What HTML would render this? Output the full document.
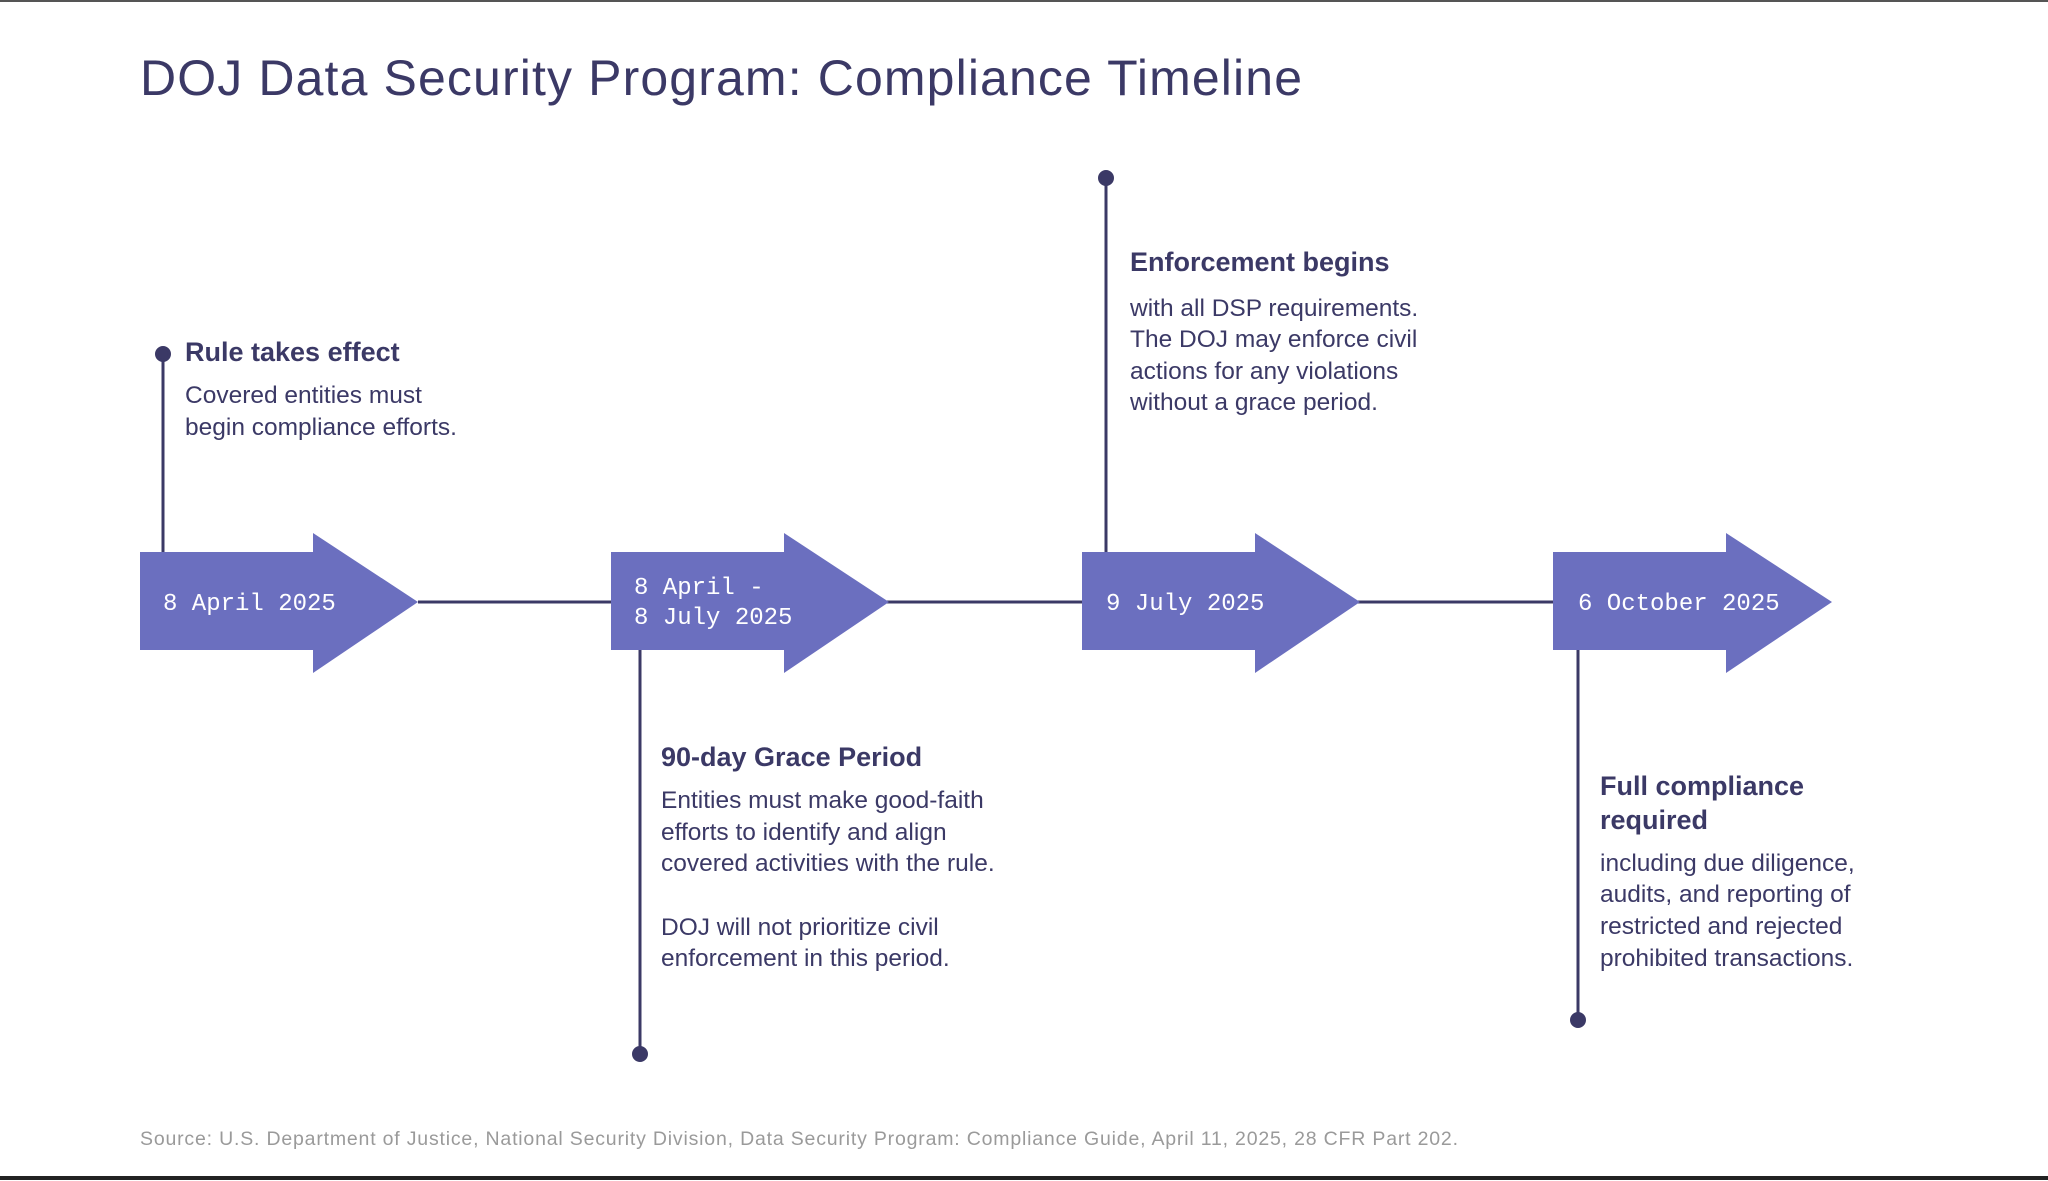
<!DOCTYPE html>
<html><head><meta charset="utf-8"><style>
html,body{margin:0;padding:0;background:#fff;}
svg{display:block;}
.t{font-family:"Liberation Sans",sans-serif;fill:#3b3966;}
.b{font-weight:bold;font-size:27px;}
.p{font-size:24.5px;}
.m{font-family:"Liberation Mono",monospace;font-size:24px;fill:#fff;}
</style></head><body>
<svg width="2048" height="1181" viewBox="0 0 2048 1181" xmlns="http://www.w3.org/2000/svg">
<rect width="2048" height="1181" fill="#fff"/>
<line x1="0" y1="1" x2="2048" y2="1" stroke="#555" stroke-width="2"/>
<line x1="0" y1="1178" x2="2048" y2="1178" stroke="#222" stroke-width="4"/>
<text class="t" x="140" y="95" font-size="50" textLength="1162">DOJ Data Security Program: Compliance Timeline</text>
<line x1="418" y1="602" x2="1553" y2="602" stroke="#3b3966" stroke-width="3"/>
<g fill="#6b6fbf">
<polygon points="140,552 313,552 313,533 418,602 313,673 313,650 140,650"/>
<polygon points="611,552 784,552 784,533 889,602 784,673 784,650 611,650"/>
<polygon points="1082,552 1255,552 1255,533 1360,602 1255,673 1255,650 1082,650"/>
<polygon points="1553,552 1726,552 1726,533 1832,602 1726,673 1726,650 1553,650"/>
</g>
<g stroke="#3b3966" stroke-width="3" fill="#3b3966">
<line x1="163" y1="354" x2="163" y2="552"/><circle cx="163" cy="354" r="6.5"/>
<line x1="640" y1="650" x2="640" y2="1054"/><circle cx="640" cy="1054" r="6.5"/>
<line x1="1106" y1="178" x2="1106" y2="552"/><circle cx="1106" cy="178" r="6.5"/>
<line x1="1578" y1="650" x2="1578" y2="1020"/><circle cx="1578" cy="1020" r="6.5"/>
</g>
<text class="m" x="163" y="610">8 April 2025</text>
<text class="m" x="634" y="594">8 April -</text>
<text class="m" x="634" y="624">8 July 2025</text>
<text class="m" x="1106" y="610">9 July 2025</text>
<text class="m" x="1578" y="610">6 October 2025</text>
<text class="t b" x="185" y="361">Rule takes effect</text>
<text class="t p" x="185" y="403">Covered entities must</text>
<text class="t p" x="185" y="435">begin compliance efforts.</text>
<text class="t b" x="1130" y="271">Enforcement begins</text>
<text class="t p" x="1130" y="316">with all DSP requirements.</text>
<text class="t p" x="1130" y="347">The DOJ may enforce civil</text>
<text class="t p" x="1130" y="379">actions for any violations</text>
<text class="t p" x="1130" y="410">without a grace period.</text>
<text class="t b" x="661" y="766">90-day Grace Period</text>
<text class="t p" x="661" y="808">Entities must make good-faith</text>
<text class="t p" x="661" y="840">efforts to identify and align</text>
<text class="t p" x="661" y="871">covered activities with the rule.</text>
<text class="t p" x="661" y="935">DOJ will not prioritize civil</text>
<text class="t p" x="661" y="966">enforcement in this period.</text>
<text class="t b" x="1600" y="795">Full compliance</text>
<text class="t b" x="1600" y="829">required</text>
<text class="t p" x="1600" y="871">including due diligence,</text>
<text class="t p" x="1600" y="902">audits, and reporting of</text>
<text class="t p" x="1600" y="934">restricted and rejected</text>
<text class="t p" x="1600" y="966">prohibited transactions.</text>
<text x="140" y="1145" font-family="Liberation Sans, sans-serif" font-size="19.5" fill="#9a9a9a" textLength="1318">Source: U.S. Department of Justice, National Security Division, Data Security Program: Compliance Guide, April 11, 2025, 28 CFR Part 202.</text>
</svg>
</body></html>
